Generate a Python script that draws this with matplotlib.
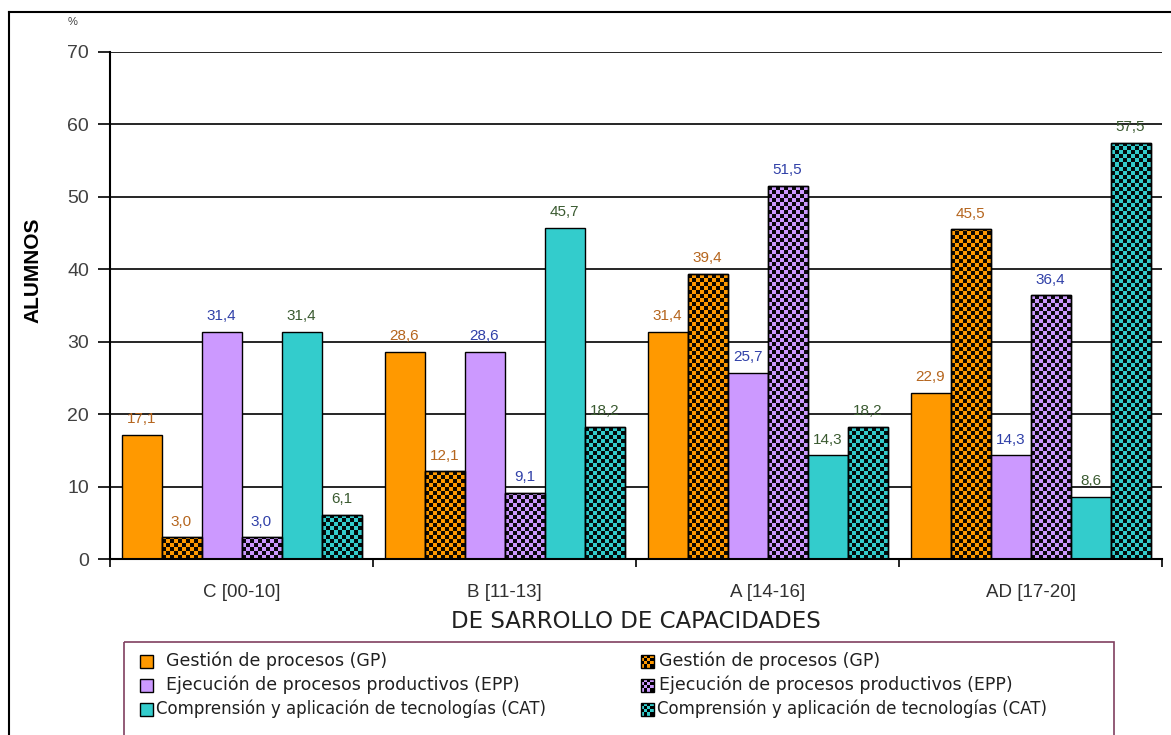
import numpy as np
import matplotlib.pyplot as plt
from matplotlib.patches import Rectangle

# Niveles de logro y porcentaje de alumnos por capacidad
categorias = ['C [00-10]', 'B [11-13]', 'A [14-16]', 'AD [17-20]']
gp = [17.1, 28.6, 31.4, 22.9]
gp_b = [3.0, 12.1, 39.4, 45.5]
epp = [31.4, 28.6, 25.7, 14.3]
epp_b = [3.0, 9.1, 51.5, 36.4]
cat = [31.4, 45.7, 14.3, 8.6]
cat_b = [6.1, 18.2, 18.2, 57.5]

series = [gp, gp_b, epp, epp_b, cat, cat_b]
nombres = ['Gestión de procesos (GP)', 'Gestión de procesos (GP)',
           'Ejecución de procesos productivos (EPP)', 'Ejecución de procesos productivos (EPP)',
           'Comprensión y aplicación de tecnologías (CAT)', 'Comprensión y aplicación de tecnologías (CAT)']
colores = ['#FF9900', '#FF9900', '#CC99FF', '#CC99FF', '#33CCCC', '#33CCCC']
tramado = [False, True, False, True, False, True]
col_etiq = ['#B5651D', '#B5651D', '#3040A8', '#3040A8', '#3A5A30', '#3A5A30']

plt.rcParams['font.family'] = ['Liberation Sans', 'DejaVu Sans']

W, H = 1171, 735
fig = plt.figure(figsize=(W / 100, H / 100), dpi=100)

# capa en pixeles para marco, titulos y leyenda
bg = fig.add_axes([0, 0, 1, 1])
bg.set_xlim(0, W)
bg.set_ylim(H, 0)
bg.axis('off')
bg.plot([9, W], [12, 12], color='black', lw=1.5)
bg.plot([9, 9], [12, H], color='black', lw=1.5)

x0, x1, y_top, y_bot = 110, 1162, 52, 559
ax = fig.add_axes([x0 / W, 1 - y_bot / H, (x1 - x0) / W, (y_bot - y_top) / H])
ax.set_xlim(-0.5, 3.5)
ax.set_ylim(0, 70)
px_x = (x1 - x0) / 4.0
px_y = (y_bot - y_top) / 70.0

ancho = 40 / px_x
idx = np.arange(len(categorias))
celda = 4.0  # lado del cuadro del tramado, en pixeles


def tablero(ax, rect):
    bx, by = rect.get_x(), rect.get_y()
    bw, bh = rect.get_width(), rect.get_height()
    nx = max(1, int(np.ceil(bw * px_x / celda)))
    ny = max(1, int(np.ceil(bh * px_y / celda)))
    ii, jj = np.indices((ny, nx))
    img = np.zeros((ny, nx, 4))
    img[..., 3] = ((ii + jj) % 2 == 0) * 0.95
    im = ax.imshow(img, extent=(bx, bx + nx * celda / px_x, by, by + ny * celda / px_y),
                   origin='lower', aspect='auto', interpolation='nearest', zorder=3)
    im.set_clip_path(rect)


for k, (vals, c, h, ce) in enumerate(zip(series, colores, tramado, col_etiq)):
    pos = idx - 3 * ancho + (k + 0.5) * ancho
    barras = ax.bar(pos, vals, width=ancho, color=c, edgecolor='black', linewidth=1, zorder=2)
    for rect, v in zip(barras, vals):
        if h:
            tablero(ax, rect)
            ax.add_patch(Rectangle((rect.get_x(), 0), rect.get_width(), v, fill=False,
                                   edgecolor='black', linewidth=1, zorder=4))
        ax.text(rect.get_x() + rect.get_width() / 2, v + 1.2, f'{v:.1f}'.replace('.', ','),
                ha='center', va='bottom', fontsize=11, color=ce, zorder=5)

ax.set_xlim(-0.5, 3.5)
ax.set_ylim(0, 70)
ax.set_yticks(range(0, 71, 10))
ax.yaxis.grid(True, color='black', linewidth=1.2, zorder=0)
ax.set_axisbelow(True)
ax.tick_params(axis='y', length=9, width=1.2, labelsize=14, labelcolor='#404040', pad=6)
ax.set_xticks([-0.5, 0.5, 1.5, 2.5, 3.5])
ax.set_xticklabels([])
ax.set_xticks(idx, minor=True)
ax.set_xticklabels(categorias, minor=True)
ax.tick_params(axis='x', which='major', length=6, width=1.2)
ax.tick_params(axis='x', which='minor', length=0, labelsize=13.5, labelcolor='#303030', pad=18)
for s in ['top', 'right']:
    ax.spines[s].set_visible(False)
ax.spines['left'].set_linewidth(1.5)
ax.spines['bottom'].set_linewidth(1.5)

bg.text(73, 22, '%', fontsize=8, color='#404040', ha='center', va='center')
bg.text(33, 270, 'ALUMNOS', rotation=90, fontsize=15, fontweight='bold', ha='center', va='center')
bg.text(636, 622, 'DE SARROLLO DE CAPACIDADES', fontsize=16.5, color='#202020',
        ha='center', va='center', family=['DejaVu Sans'])

# leyenda dibujada a mano en coordenadas de pixel
bg.add_patch(Rectangle((124, 642), 990, 120, fill=False, edgecolor='#804060', lw=1.2, clip_on=False))
filas = [661, 685, 709]
tam_txt = [12.5, 12.5, 12]
for k, (nom, c, h) in enumerate(zip(nombres, colores, tramado)):
    fila = k // 2
    cx = 146 if not h else 647
    cy = filas[fila]
    m = 13
    bg.add_patch(Rectangle((cx - m / 2, cy - m / 2), m, m, facecolor=c, edgecolor='black', lw=1))
    if h:
        n = 4
        s = m / n
        for a in range(n):
            for b in range(n):
                if (a + b) % 2 == 0:
                    bg.add_patch(Rectangle((cx - m / 2 + a * s, cy - m / 2 + b * s), s, s,
                                           facecolor='black', edgecolor='none'))
    dx = 20 if not h else 12
    if fila == 2:
        dx = 10
    bg.text(cx + dx, cy, nom, fontsize=tam_txt[fila], va='center', ha='left', color='#202020',
            family=['DejaVu Sans'])

fig.savefig('out.png', dpi=100)
